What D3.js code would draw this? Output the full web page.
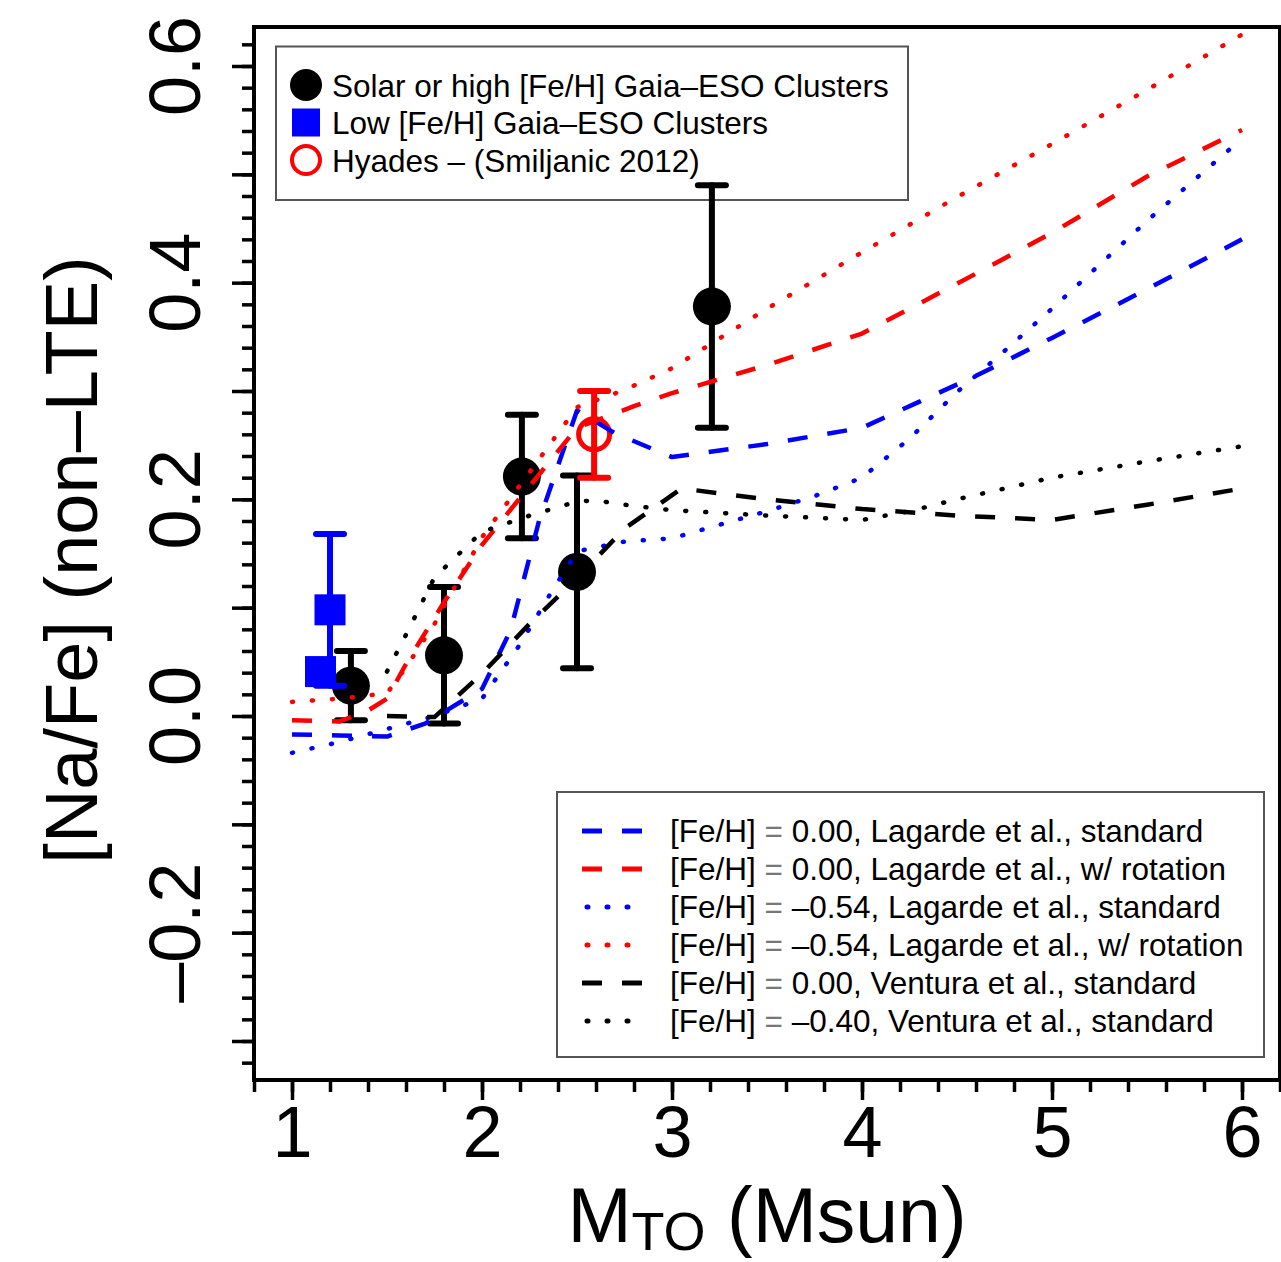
<!DOCTYPE html>
<html>
<head>
<meta charset="utf-8">
<script src="https://cdn.jsdelivr.net/npm/d3@7"></script>
<style>
  body { margin: 0; background: #fff; }
  svg { display: block; }
  text { font-family: "Liberation Sans", Arial, Helvetica, sans-serif; fill: #000; }
</style>
</head>
<body>
<svg id="chart" width="1281" height="1262"></svg>
<script>
// ---- Observed clusters: turn-off mass, [Na/Fe] and its uncertainty ----
const solarMass = [1.31, 1.80, 2.21, 2.50, 3.21];
const solarNa   = [0.028, 0.056, 0.221, 0.133, 0.378];
const solarErr  = [0.032, 0.063, 0.057, 0.089, 0.112];

const lowMass = [1.20, 1.15];
const lowNa   = [0.098, 0.041];
const lowErr  = [0.070, 0.0];

const hyadesMass = [2.59];
const hyadesNa   = [0.260];
const hyadesErr  = [0.040];

// ---- Model predictions ----
const lagStdSolMass = [1.0, 1.25, 1.5, 1.7, 2.0, 2.15, 2.3, 2.5, 2.7, 3.0, 3.5, 4.0, 4.3, 4.6, 5.0, 5.5, 6.0];
const lagStdSolNa   = [-0.017, -0.018, -0.019, -0.007, 0.025, 0.079, 0.180, 0.282, 0.261, 0.239, 0.251, 0.266, 0.290, 0.314, 0.349, 0.394, 0.440];

const lagRotSolMass = [1.0, 1.25, 1.4, 1.5, 1.6, 1.8, 2.0, 2.25, 2.5, 2.8, 3.0, 3.5, 4.0, 4.5, 5.0, 5.5, 6.0];
const lagRotSolNa   = [-0.004, -0.005, 0.005, 0.016, 0.048, 0.105, 0.158, 0.212, 0.266, 0.286, 0.298, 0.324, 0.353, 0.399, 0.446, 0.498, 0.541];

const lagStdLowMass = [1.0, 1.25, 1.5, 1.75, 2.0, 2.2, 2.35, 2.5, 2.75, 3.0, 3.5, 3.75, 4.0, 4.25, 4.5, 4.75, 5.0, 5.5, 6.0];
const lagStdLowNa   = [-0.034, -0.024, -0.012, 0.0, 0.016, 0.066, 0.110, 0.152, 0.161, 0.164, 0.189, 0.203, 0.220, 0.256, 0.299, 0.337, 0.376, 0.457, 0.533];

const lagRotLowMass = [1.0, 1.25, 1.5, 1.6, 1.75, 2.0, 2.25, 2.5, 2.75, 3.0, 3.5, 4.0, 4.5, 5.0, 5.5, 6.0];
const lagRotLowNa   = [0.013, 0.016, 0.021, 0.045, 0.085, 0.165, 0.225, 0.285, 0.301, 0.321, 0.376, 0.428, 0.479, 0.528, 0.578, 0.629];

const venSolMass = [1.5, 1.75, 2.0, 2.25, 2.5, 2.75, 3.05, 3.5, 4.0, 4.5, 5.0, 5.5, 6.0];
const venSolNa   = [0.0, -0.001, 0.039, 0.085, 0.127, 0.173, 0.210, 0.200, 0.191, 0.185, 0.181, 0.195, 0.210];

const venLowMass = [1.5, 1.6, 1.75, 2.0, 2.25, 2.5, 2.6, 2.75, 3.0, 3.5, 4.0, 4.25, 4.5, 5.0, 5.5, 6.0];
const venLowNa   = [0.041, 0.075, 0.128, 0.170, 0.185, 0.198, 0.199, 0.195, 0.190, 0.185, 0.181, 0.189, 0.200, 0.220, 0.235, 0.249];

// ---- Axis ticks ----
const massTicks = [1, 2, 3, 4, 5, 6];
const naLabelTicks = [-0.2, 0.0, 0.2, 0.4, 0.6];

// ---- Legend texts ----
const pointLegend = [
  "Solar or high [Fe/H] Gaia\u2013ESO Clusters",
  "Low [Fe/H] Gaia\u2013ESO Clusters",
  "Hyades \u2013 (Smiljanic 2012)"
];
const modelLegend = [
  ["0.00", "Lagarde et al., standard"],
  ["0.00", "Lagarde et al., w/ rotation"],
  ["\u20130.54", "Lagarde et al., standard"],
  ["\u20130.54", "Lagarde et al., w/ rotation"],
  ["0.00", "Ventura et al., standard"],
  ["\u20130.40", "Ventura et al., standard"]
];

const DASH = "20,20", DOT = "1,19";
const models = [
  { mass: lagStdSolMass, na: lagStdSolNa, color: "#0000ff", dash: DASH },
  { mass: lagRotSolMass, na: lagRotSolNa, color: "#ff0000", dash: DASH },
  { mass: lagStdLowMass, na: lagStdLowNa, color: "#0000ff", dash: DOT },
  { mass: lagRotLowMass, na: lagRotLowNa, color: "#ff0000", dash: DOT },
  { mass: venSolMass,    na: venSolNa,    color: "#000000", dash: DASH },
  { mass: venLowMass,    na: venLowNa,    color: "#000000", dash: DOT }
];

const svg = d3.select("#chart");
const x = d3.scaleLinear().domain([0.8, 6.2]).range([254, 1280]);
const y = d3.scaleLinear().domain([-0.336, 0.636]).range([1080, 27]);

const minusFmt = v => {
  const s = d3.format(".1f")(Math.abs(v) < 1e-9 ? 0 : v);
  return s.replace("-", "\u2013").replace("\u2212", "\u2013");
};

// ---- X axis ----
const xMinor = d3.range(0.8, 6.21, 0.2).map(v => +v.toFixed(2));
svg.append("g").attr("transform", "translate(0,1080)")
  .call(d3.axisBottom(x).tickValues(xMinor).tickSize(12).tickFormat(""))
  .call(g => g.select(".domain").remove())
  .call(g => g.selectAll("line").attr("stroke", "#000").attr("stroke-width", 3.5));
svg.append("g").attr("transform", "translate(0,1080)")
  .call(d3.axisBottom(x).tickValues(massTicks).tickSize(20).tickPadding(6).tickFormat(d3.format("d")))
  .call(g => g.select(".domain").remove())
  .call(g => g.selectAll("line").attr("stroke", "#000").attr("stroke-width", 3.5))
  .call(g => g.selectAll("text").attr("font-size", 72).attr("font-family", "Liberation Sans, Arial, sans-serif").attr("fill", "#000"));

// ---- Y axis ----
const yMinor = d3.range(-0.32, 0.621, 0.02).map(v => +v.toFixed(2));
const yMajor = d3.range(-0.3, 0.61, 0.1).map(v => +v.toFixed(1));
svg.append("g").attr("transform", "translate(254,0)")
  .call(d3.axisLeft(y).tickValues(yMinor).tickSize(12).tickFormat(""))
  .call(g => g.select(".domain").remove())
  .call(g => g.selectAll("line").attr("stroke", "#000").attr("stroke-width", 3.5));
svg.append("g").attr("transform", "translate(254,0)")
  .call(d3.axisLeft(y).tickValues(yMajor).tickSize(22).tickFormat(""))
  .call(g => g.select(".domain").remove())
  .call(g => g.selectAll("line").attr("stroke", "#000").attr("stroke-width", 3.5));
svg.append("g").selectAll("text").data(naLabelTicks).join("text")
  .attr("transform", d => `translate(200,${y(d)}) rotate(-90)`)
  .attr("text-anchor", "middle")
  .attr("font-size", 72)
  .text(minusFmt);

// ---- Frame ----
svg.append("rect")
  .attr("x", x(0.8)).attr("y", y(0.636))
  .attr("width", x(6.2) - x(0.8)).attr("height", y(-0.336) - y(0.636))
  .attr("fill", "none").attr("stroke", "#000").attr("stroke-width", 4);

// ---- Axis titles ----
const xt = svg.append("text").attr("x", 767).attr("y", 1242).attr("text-anchor", "middle").attr("font-size", 77);
xt.append("tspan").text("M");
xt.append("tspan").attr("font-size", 54).attr("dy", 8).text("TO");
xt.append("tspan").attr("dy", -8).text(" (Msun)");

svg.append("text")
  .attr("transform", "translate(97,560) rotate(-90)")
  .attr("text-anchor", "middle").attr("font-size", 74)
  .text("[Na/Fe] (non\u2013LTE)");

// ---- Legends ----
const lg1 = svg.append("g");
lg1.append("rect").attr("x", 276).attr("y", 46.5).attr("width", 632).attr("height", 153.5)
  .attr("fill", "none").attr("stroke", "#555").attr("stroke-width", 2);
const row1 = [85, 122.5, 160];
lg1.append("circle").attr("cx", 306).attr("cy", row1[0]).attr("r", 16).attr("fill", "#000");
lg1.append("rect").attr("x", 306 - 14).attr("y", row1[1] - 14).attr("width", 28).attr("height", 28).attr("fill", "#0000ff");
lg1.append("circle").attr("cx", 306).attr("cy", row1[2]).attr("r", 14).attr("fill", "none").attr("stroke", "#ff0000").attr("stroke-width", 4);
lg1.selectAll("text.lab").data(pointLegend).join("text").attr("class", "lab")
  .attr("x", 332).attr("y", (d, i) => row1[i] + 11.5).attr("font-size", 31.5).text(d => d);

const lg2 = svg.append("g");
lg2.append("rect").attr("x", 557).attr("y", 792).attr("width", 707).attr("height", 265)
  .attr("fill", "none").attr("stroke", "#555").attr("stroke-width", 2);
modelLegend.forEach((m, i) => {
  const cy = 831 + i * 38;
  const mod = models[i];
  lg2.append("line").attr("x1", 582).attr("x2", 644).attr("y1", cy).attr("y2", cy)
    .attr("stroke", mod.color).attr("stroke-width", 5)
    .attr("stroke-dasharray", mod.dash)
    .attr("stroke-dashoffset", mod.dash === DOT ? -5 : 0)
    .attr("stroke-linecap", mod.dash === DOT ? "round" : "butt");
  const t = lg2.append("text").attr("x", 670).attr("y", cy + 11).attr("font-size", 31.5);
  t.append("tspan").text("[Fe/H] ");
  t.append("tspan").attr("fill", "#777").text("=");
  t.append("tspan").text(" " + m[0] + ", " + m[1]);
});

// ---- Data points with error bars ----
function errorBars(mass, na, err, color) {
  const g = svg.append("g").attr("stroke", color).attr("stroke-width", 6).attr("stroke-linecap", "round");
  mass.forEach((m, i) => {
    if (!(err[i] > 0)) return;
    const cx = x(m), top = y(na[i] + err[i]), bot = y(na[i] - err[i]);
    g.append("line").attr("x1", cx).attr("x2", cx).attr("y1", top).attr("y2", bot);
    g.append("line").attr("x1", cx - 14).attr("x2", cx + 14).attr("y1", top).attr("y2", top);
    g.append("line").attr("x1", cx - 14).attr("x2", cx + 14).attr("y1", bot).attr("y2", bot);
  });
}

errorBars(solarMass, solarNa, solarErr, "#000");
svg.append("g").selectAll("circle").data(d3.zip(solarMass, solarNa)).join("circle")
  .attr("cx", d => x(d[0])).attr("cy", d => y(d[1])).attr("r", 19).attr("fill", "#000");

errorBars(lowMass, lowNa, lowErr, "#0000ff");
svg.append("g").selectAll("rect").data(d3.zip(lowMass, lowNa)).join("rect")
  .attr("x", d => x(d[0]) - 15.5).attr("y", d => y(d[1]) - 15.5)
  .attr("width", 31).attr("height", 31).attr("fill", "#0000ff");

errorBars(hyadesMass, hyadesNa, hyadesErr, "#ff0000");
svg.append("g").selectAll("circle").data(d3.zip(hyadesMass, hyadesNa)).join("circle")
  .attr("cx", d => x(d[0])).attr("cy", d => y(d[1])).attr("r", 15.5)
  .attr("fill", "none").attr("stroke", "#ff0000").attr("stroke-width", 5);

// ---- Model curves ----
const line = d3.line().x(d => x(d[0])).y(d => y(d[1]));
svg.append("g").selectAll("path").data(models).join("path")
  .attr("d", d => line(d3.zip(d.mass, d.na)))
  .attr("fill", "none")
  .attr("stroke", d => d.color)
  .attr("stroke-width", 4.5)
  .attr("stroke-dasharray", d => d.dash)
  .attr("stroke-linecap", d => d.dash === DOT ? "round" : "butt")
  .attr("stroke-linejoin", "round");
</script>
</body>
</html>
